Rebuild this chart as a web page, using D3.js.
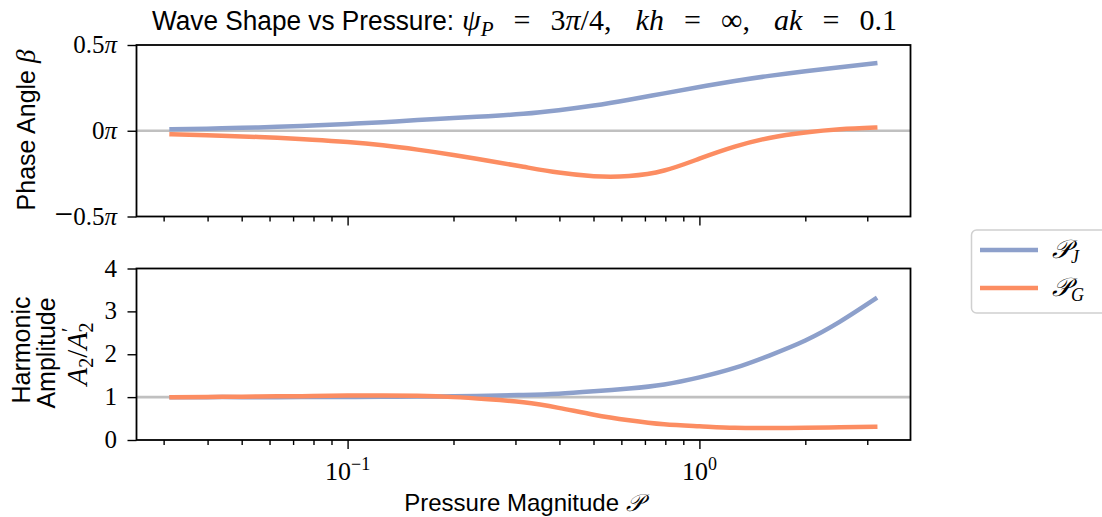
<!DOCTYPE html>
<html>
<head>
<meta charset="utf-8">
<script src="https://cdnjs.cloudflare.com/ajax/libs/d3/7.8.5/d3.min.js"></script>
<style>
body { margin: 0; background: #fff; }
svg { display: block; }
</style>
</head>
<body>
<svg class="wave-chart"></svg>
<script>
// pressure magnitude P (samples, log spaced)
var pressure = [0.0316, 0.0398, 0.0501, 0.0631, 0.0794, 0.1, 0.126, 0.158, 0.2, 0.251, 0.316,
    0.398, 0.501, 0.631, 0.794, 1.0, 1.26, 1.58, 2.0, 2.51, 3.16];

// phase angle beta (in units of pi)
var phaseJ = [0.009, 0.012, 0.017, 0.023, 0.031, 0.040, 0.050, 0.062, 0.074, 0.085, 0.099,
    0.120, 0.147, 0.181, 0.218, 0.255, 0.290, 0.320, 0.347, 0.370, 0.393];
var phaseG = [-0.021, -0.026, -0.033, -0.041, -0.052, -0.066, -0.085, -0.110, -0.141, -0.175, -0.210,
    -0.244, -0.265, -0.264, -0.232, -0.163, -0.093, -0.042, -0.010, 0.009, 0.019];

// harmonic amplitude A2/A2'
var ampJ = [1.0, 1.0, 1.0, 1.0, 1.002, 1.005, 1.008, 1.012, 1.018, 1.03, 1.05,
    1.08, 1.135, 1.20, 1.295, 1.46, 1.68, 1.97, 2.32, 2.76, 3.29];
var ampG = [1.0, 1.005, 1.01, 1.018, 1.025, 1.035, 1.04, 1.03, 1.0, 0.95, 0.88,
    0.75, 0.59, 0.46, 0.365, 0.32, 0.285, 0.28, 0.285, 0.295, 0.31];

var phaseTicks = [-0.5, 0, 0.5];
var phaseTickLabels = ['\u22120.5', '0', '0.5'];
var ampTicks = [0, 1, 2, 3, 4];
var xMajorTicks = [0.1, 1];
var xMajorExponents = ['\u22121', '0'];
var xMinorTicks = [0.03, 0.04, 0.05, 0.06, 0.07, 0.08, 0.09,
    0.2, 0.3, 0.4, 0.5, 0.6, 0.7, 0.8, 0.9, 2, 3];
var seriesNames = ['J', 'G'];
var colors = ['#8da0cb', '#fc8d62'];

var svgWidth = 1102;
var svgHeight = 517;
var sans = 'Liberation Sans, Arial, sans-serif';
var serif = 'Liberation Serif, Times New Roman, serif';

var svg = d3.select('.wave-chart')
    .attr('width', svgWidth)
    .attr('height', svgHeight);

var x = d3.scaleLog()
    .domain([Math.pow(10, -1.6), Math.pow(10, 0.6)])
    .range([136.5, 910.5]);

var yTop = d3.scaleLinear().domain([-0.5, 0.5]).range([216.5, 45]);
var yBot = d3.scaleLinear().domain([0, 4]).range([440, 268.5]);

function styleAxis(sel) {
    sel.select('.domain').remove();
    sel.selectAll('.tick line').attr('stroke', '#000').attr('stroke-width', 1.4);
}

function drawPanel(y, refValue, series, yTicks, showXLabels) {
    var g = svg.append('g');
    var r = y.range();

    // reference line
    g.append('line')
        .attr('x1', x.range()[0])
        .attr('x2', x.range()[1])
        .attr('y1', y(refValue))
        .attr('y2', y(refValue))
        .attr('stroke', '#c0c0c0')
        .attr('stroke-width', 2.6);

    var line = d3.line()
        .x(function (d) { return x(d[0]); })
        .y(function (d) { return y(d[1]); })
        .curve(d3.curveNatural);

    series.forEach(function (values, i) {
        g.append('path')
            .datum(d3.zip(pressure, values))
            .attr('fill', 'none')
            .attr('stroke', colors[i])
            .attr('stroke-width', 4.5)
            .attr('stroke-linecap', 'square')
            .attr('stroke-linejoin', 'round')
            .attr('d', line);
    });

    // x ticks
    g.append('g')
        .attr('transform', 'translate(0,' + r[0] + ')')
        .call(d3.axisBottom(x).tickValues(xMinorTicks).tickSize(5).tickFormat(''))
        .call(styleAxis);
    g.append('g')
        .attr('transform', 'translate(0,' + r[0] + ')')
        .call(d3.axisBottom(x).tickValues(xMajorTicks).tickSize(9).tickFormat(''))
        .call(styleAxis);

    // y ticks
    g.append('g')
        .attr('transform', 'translate(' + x.range()[0] + ',0)')
        .call(d3.axisLeft(y).tickValues(yTicks).tickSize(9).tickFormat(''))
        .call(styleAxis);

    // frame
    g.append('rect')
        .attr('x', x.range()[0])
        .attr('y', r[1])
        .attr('width', x.range()[1] - x.range()[0])
        .attr('height', r[0] - r[1])
        .attr('fill', 'none')
        .attr('stroke', '#000')
        .attr('stroke-width', 1.8);

    if (showXLabels) {
        var lab = g.selectAll('.xlab')
            .data(xMajorTicks)
            .enter()
            .append('text')
            .attr('x', function (d) { return x(d); })
            .attr('y', r[0] + 40)
            .attr('text-anchor', 'middle')
            .attr('font-family', serif)
            .attr('font-size', 26);
        lab.append('tspan').text('10');
        lab.append('tspan')
            .attr('dy', -10)
            .attr('font-size', 18)
            .text(function (d, i) { return xMajorExponents[i]; });
    }
    return g;
}

var topPanel = drawPanel(yTop, 0, [phaseJ, phaseG], phaseTicks, false);
var botPanel = drawPanel(yBot, 1, [ampJ, ampG], ampTicks, true);

// y tick labels
var pl = topPanel.selectAll('.ylab')
    .data(phaseTicks)
    .enter()
    .append('text')
    .attr('x', 117)
    .attr('y', function (d) { return yTop(d) + 8; })
    .attr('text-anchor', 'end')
    .attr('font-family', serif)
    .attr('font-size', 25);
pl.append('tspan')
    .attr('font-size', 33)
    .text(function (d, i) { return phaseTickLabels[i].charAt(0) === '\u2212' ? '\u2212' : ''; });
pl.append('tspan').text(function (d, i) { return phaseTickLabels[i].replace('\u2212', ''); });
pl.append('tspan').attr('font-style', 'italic').text('\u03c0');

botPanel.selectAll('.ylab')
    .data(ampTicks)
    .enter()
    .append('text')
    .attr('x', 117)
    .attr('y', function (d) { return yBot(d) + 8; })
    .attr('text-anchor', 'end')
    .attr('font-family', serif)
    .attr('font-size', 25)
    .text(function (d) { return d; });

// axis labels
var yl = svg.append('text')
    .attr('transform', 'translate(35,130) rotate(-90)')
    .attr('text-anchor', 'middle')
    .attr('font-family', sans)
    .attr('font-size', 25);
yl.append('tspan').text('Phase Angle ');
yl.append('tspan').attr('font-family', serif).attr('font-style', 'italic').attr('font-size', 27).text('\u03b2');

svg.append('text')
    .attr('transform', 'translate(30,350) rotate(-90)')
    .attr('text-anchor', 'middle')
    .attr('font-family', sans)
    .attr('font-size', 25)
    .text('Harmonic');
svg.append('text')
    .attr('transform', 'translate(55,353) rotate(-90)')
    .attr('text-anchor', 'middle')
    .attr('font-family', sans)
    .attr('font-size', 25)
    .text('Amplitude');
var al = svg.append('text')
    .attr('transform', 'translate(87,354) rotate(-90)')
    .attr('text-anchor', 'middle')
    .attr('font-family', serif)
    .attr('font-size', 29);
al.append('tspan').attr('font-style', 'italic').text('A');
al.append('tspan').attr('font-size', 20).attr('dy', 6).text('2');
al.append('tspan').attr('dy', -6).text('/');
al.append('tspan').attr('font-style', 'italic').text('A');
al.append('tspan').attr('font-size', 20).attr('dy', -11).text('\u2032');
al.append('tspan').attr('font-size', 20).attr('dx', -5).attr('dy', 17).text('2');

var xl = svg.append('text')
    .attr('x', 523.5)
    .attr('y', 511)
    .attr('text-anchor', 'middle')
    .attr('font-family', sans)
    .attr('font-size', 24);
xl.append('tspan').text('Pressure Magnitude ');
xl.append('tspan').attr('font-family', serif).attr('font-style', 'italic').text('\ud835\udcab');

// title: text part and math part
svg.append('text')
    .attr('x', 152)
    .attr('y', 30)
    .attr('font-family', sans)
    .attr('font-size', 27)
    .attr('textLength', 302)
    .attr('lengthAdjust', 'spacingAndGlyphs')
    .text('Wave Shape vs Pressure:');

// math tokens: [text, italic, subscript, gap units before]
var mathTokens = [
    ['\u03c8', true, false, 0], ['P', true, true, 0], ['=', false, false, 1], ['3', false, false, 1],
    ['\u03c0', true, false, 0], ['/4,', false, false, 0], ['kh', true, false, 1.2], ['=', false, false, 1],
    ['\u221e,', false, false, 1], ['ak', true, false, 1.2], ['=', false, false, 1], ['0.1', false, false, 1]
];
var tm = svg.append('text')
    .attr('x', 462)
    .attr('y', 30)
    .attr('font-family', serif)
    .attr('font-size', 30);
var spans = tm.selectAll('tspan')
    .data(mathTokens)
    .enter()
    .append('tspan')
    .attr('font-style', function (d) { return d[1] ? 'italic' : 'normal'; })
    .attr('font-size', function (d) { return d[2] ? 21 : 30; })
    .attr('dy', function (d, i) {
        if (d[2]) return 6;
        if (i > 0 && mathTokens[i - 1][2]) return -6;
        return 0;
    })
    .text(function (d) { return d[0]; });
var natural = tm.node().getComputedTextLength();
var units = d3.sum(mathTokens, function (d) { return d[3]; });
var gap = (435 - natural) / units;
spans.attr('dx', function (d) { return d[3] * gap; });

// legend
var legend = svg.append('g');
legend.append('rect')
    .attr('x', 971.5)
    .attr('y', 230)
    .attr('width', 150)
    .attr('height', 83)
    .attr('rx', 5)
    .attr('fill', '#fff')
    .attr('stroke', '#d0d0d0')
    .attr('stroke-width', 1.5);

var item = legend.selectAll('.item')
    .data(seriesNames)
    .enter()
    .append('g')
    .attr('transform', function (d, i) { return 'translate(0,' + (250 + i * 38) + ')'; });
item.append('line')
    .attr('x1', 980)
    .attr('x2', 1038)
    .attr('stroke', function (d, i) { return colors[i]; })
    .attr('stroke-width', 4.5);
var it = item.append('text')
    .attr('x', 1052)
    .attr('y', 8)
    .attr('font-family', serif)
    .attr('font-size', 26);
it.append('tspan').attr('font-style', 'italic').text('\ud835\udcab');
it.append('tspan').attr('font-style', 'italic').attr('font-size', 18).attr('dy', 5).text(function (d) { return d; });
</script>
</body>
</html>
